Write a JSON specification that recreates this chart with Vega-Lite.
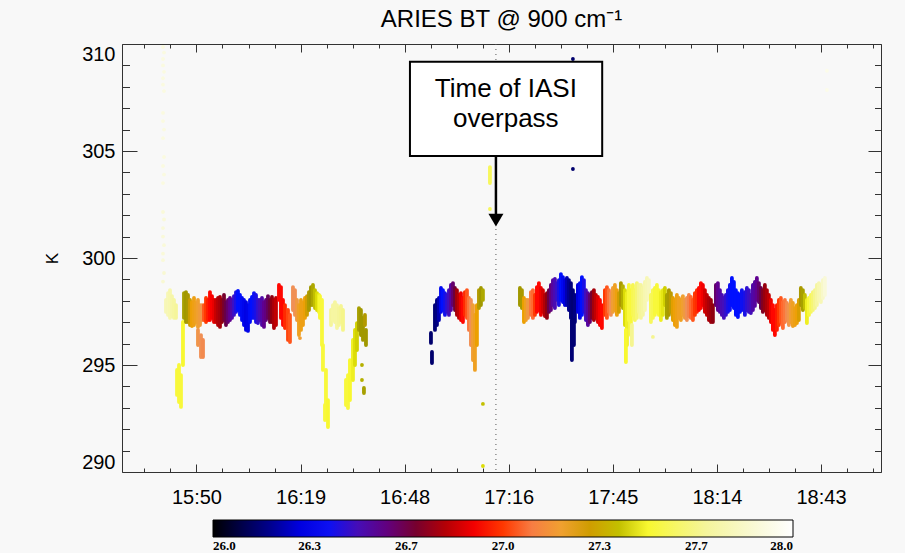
{
  "$schema": "https://vega.github.io/schema/vega-lite/v6.json",
  "width": 759,
  "height": 428,
  "autosize": "none",
  "padding": {"left": 122, "top": 44, "right": 24, "bottom": 81},
  "background": "#f8f8f8",
  "title": {"text": "ARIES BT @ 900 cm\u207b\u00b9", "font": "Liberation Sans", "fontSize": 24, "fontWeight": "normal", "color": "black", "anchor": "middle", "offset": 12},
  "config": {
    "view": {"stroke": null},
    "axis": {"domainColor": "#333", "tickColor": "#333", "labelColor": "black", "labelFont": "Liberation Sans", "labelFontSize": 20, "titleFont": "Liberation Sans", "titleFontWeight": "normal", "titleColor": "black", "titleFontSize": 17, "grid": false}
  },
  "datasets": {
    "bt": [
      {"t":40.74,"k":309.86,"k2":309.86,"z":27.9},
      {"t":41.02,"k":309.6,"k2":309.6,"z":27.9},
      {"t":40.74,"k":309.3,"k2":309.3,"z":27.9},
      {"t":40.74,"k":309.0,"k2":309.0,"z":27.9},
      {"t":41.02,"k":308.7,"k2":308.7,"z":27.9},
      {"t":40.74,"k":308.4,"k2":308.4,"z":27.9},
      {"t":40.74,"k":308.1,"k2":308.1,"z":27.9},
      {"t":41.02,"k":307.8,"k2":307.8,"z":27.9},
      {"t":40.74,"k":306.78,"k2":306.78,"z":27.9},
      {"t":40.74,"k":306.4,"k2":306.4,"z":27.9},
      {"t":41.02,"k":306.0,"k2":306.0,"z":27.9},
      {"t":40.74,"k":305.6,"k2":305.6,"z":27.9},
      {"t":41.02,"k":304.72,"k2":304.72,"z":27.9},
      {"t":40.74,"k":304.3,"k2":304.3,"z":27.9},
      {"t":41.02,"k":303.9,"k2":303.9,"z":27.9},
      {"t":40.74,"k":303.5,"k2":303.5,"z":27.9},
      {"t":40.74,"k":302.15,"k2":302.15,"z":27.88},
      {"t":41.02,"k":301.8,"k2":301.8,"z":27.88},
      {"t":40.74,"k":301.4,"k2":301.4,"z":27.88},
      {"t":40.74,"k":301.0,"k2":301.0,"z":27.88},
      {"t":41.02,"k":300.6,"k2":300.6,"z":27.88},
      {"t":40.74,"k":300.2,"k2":300.2,"z":27.88},
      {"t":40.74,"k":299.9,"k2":299.9,"z":27.88},
      {"t":41.02,"k":299.3,"k2":299.3,"z":27.86},
      {"t":40.74,"k":298.9,"k2":298.9,"z":27.86},
      {"t":41.57,"k":298.04,"k2":297.48,"z":27.78},
      {"t":42.13,"k":298.36,"k2":297.34,"z":27.78},
      {"t":42.68,"k":298.5,"k2":297.2,"z":27.76},
      {"t":43.23,"k":298.22,"k2":297.29,"z":27.74},
      {"t":43.78,"k":298.04,"k2":297.2,"z":27.72},
      {"t":44.34,"k":297.8,"k2":297.2,"z":27.7},
      {"t":44.62,"k":294.77,"k2":293.6,"z":27.52},
      {"t":45.17,"k":295.0,"k2":293.27,"z":27.52},
      {"t":45.72,"k":294.53,"k2":293.04,"z":27.52},
      {"t":46.27,"k":297.01,"k2":295.0,"z":27.5},
      {"t":46.55,"k":298.36,"k2":297.2,"z":27.36},
      {"t":47.1,"k":298.41,"k2":297.01,"z":27.35},
      {"t":47.66,"k":298.27,"k2":297.01,"z":27.34},
      {"t":48.21,"k":298.04,"k2":296.87,"z":27.3},
      {"t":48.76,"k":297.94,"k2":296.82,"z":27.26},
      {"t":49.32,"k":298.13,"k2":296.87,"z":27.24},
      {"t":49.87,"k":297.9,"k2":297.01,"z":27.22},
      {"t":50.42,"k":298.04,"k2":296.78,"z":27.2},
      {"t":50.98,"k":297.8,"k2":296.87,"z":27.18},
      {"t":51.53,"k":297.8,"k2":297.1,"z":27.15},
      {"t":50.42,"k":296.64,"k2":295.93,"z":27.15},
      {"t":51.25,"k":296.4,"k2":295.37,"z":27.13},
      {"t":51.81,"k":296.17,"k2":295.37,"z":27.12},
      {"t":52.08,"k":297.8,"k2":297.1,"z":27.04},
      {"t":52.64,"k":298.13,"k2":297.01,"z":27.0},
      {"t":53.19,"k":298.04,"k2":297.1,"z":26.96},
      {"t":53.74,"k":298.41,"k2":297.1,"z":26.93},
      {"t":54.3,"k":298.22,"k2":297.2,"z":26.91},
      {"t":54.85,"k":298.04,"k2":297.01,"z":26.88},
      {"t":55.4,"k":298.04,"k2":297.01,"z":26.83},
      {"t":55.96,"k":298.13,"k2":296.87,"z":26.8},
      {"t":56.51,"k":298.18,"k2":296.78,"z":26.78},
      {"t":57.06,"k":298.04,"k2":297.01,"z":26.75},
      {"t":57.62,"k":298.27,"k2":297.1,"z":26.7},
      {"t":58.17,"k":297.94,"k2":296.87,"z":26.66},
      {"t":58.72,"k":298.04,"k2":297.01,"z":26.62},
      {"t":59.28,"k":298.13,"k2":297.1,"z":26.58},
      {"t":59.83,"k":298.04,"k2":297.2,"z":26.53},
      {"t":60.38,"k":298.22,"k2":297.34,"z":26.47},
      {"t":60.94,"k":298.41,"k2":297.48,"z":26.42},
      {"t":61.49,"k":298.46,"k2":297.57,"z":26.38},
      {"t":62.04,"k":298.27,"k2":297.34,"z":26.38},
      {"t":62.6,"k":298.13,"k2":297.1,"z":26.35},
      {"t":63.15,"k":298.04,"k2":296.87,"z":26.33},
      {"t":63.7,"k":297.94,"k2":296.64,"z":26.31},
      {"t":64.26,"k":297.8,"k2":296.59,"z":26.32},
      {"t":64.81,"k":298.04,"k2":297.01,"z":26.36},
      {"t":65.36,"k":298.18,"k2":297.2,"z":26.38},
      {"t":65.92,"k":298.36,"k2":297.2,"z":26.4},
      {"t":66.47,"k":298.27,"k2":297.01,"z":26.42},
      {"t":67.02,"k":298.04,"k2":296.96,"z":26.46},
      {"t":67.57,"k":298.04,"k2":297.1,"z":26.49},
      {"t":68.13,"k":298.13,"k2":296.87,"z":26.53},
      {"t":68.68,"k":297.94,"k2":296.78,"z":26.58},
      {"t":69.23,"k":298.04,"k2":297.1,"z":26.6},
      {"t":69.79,"k":298.22,"k2":297.2,"z":26.64},
      {"t":70.34,"k":298.04,"k2":297.01,"z":26.68},
      {"t":70.89,"k":298.18,"k2":297.01,"z":26.75},
      {"t":71.45,"k":298.04,"k2":296.73,"z":26.79},
      {"t":72.0,"k":298.13,"k2":296.87,"z":26.82},
      {"t":72.83,"k":298.74,"k2":298.04,"z":26.93},
      {"t":73.38,"k":298.64,"k2":297.2,"z":26.93},
      {"t":73.94,"k":298.04,"k2":296.87,"z":26.93},
      {"t":74.49,"k":297.8,"k2":296.73,"z":26.98},
      {"t":75.32,"k":297.57,"k2":296.17,"z":27.02},
      {"t":75.87,"k":297.34,"k2":296.07,"z":27.04},
      {"t":76.7,"k":298.64,"k2":297.57,"z":27.13},
      {"t":77.26,"k":298.5,"k2":297.34,"z":27.13},
      {"t":77.81,"k":298.04,"k2":297.1,"z":27.17},
      {"t":78.64,"k":296.26,"k2":296.26,"z":27.19},
      {"t":78.36,"k":297.8,"k2":296.4,"z":27.22},
      {"t":78.92,"k":298.04,"k2":296.64,"z":27.24},
      {"t":79.47,"k":297.9,"k2":296.87,"z":27.24},
      {"t":80.02,"k":298.13,"k2":297.2,"z":27.26},
      {"t":80.58,"k":298.22,"k2":297.34,"z":27.3},
      {"t":81.13,"k":298.41,"k2":297.57,"z":27.34},
      {"t":81.68,"k":298.64,"k2":297.8,"z":27.35},
      {"t":82.24,"k":298.74,"k2":297.8,"z":27.37},
      {"t":82.79,"k":298.5,"k2":297.66,"z":27.4},
      {"t":83.34,"k":298.36,"k2":297.57,"z":27.44},
      {"t":83.9,"k":298.27,"k2":297.48,"z":27.48},
      {"t":84.17,"k":298.22,"k2":297.2,"z":27.5},
      {"t":84.73,"k":298.04,"k2":295.93,"z":27.52},
      {"t":85.0,"k":295.93,"k2":294.77,"z":27.52},
      {"t":85.83,"k":294.77,"k2":293.13,"z":27.52},
      {"t":85.56,"k":293.13,"k2":292.43,"z":27.52},
      {"t":86.39,"k":293.36,"k2":292.1,"z":27.5},
      {"t":87.22,"k":297.57,"k2":296.87,"z":27.7},
      {"t":87.77,"k":297.8,"k2":297.1,"z":27.72},
      {"t":88.32,"k":297.94,"k2":297.01,"z":27.72},
      {"t":88.88,"k":297.8,"k2":296.73,"z":27.72},
      {"t":89.43,"k":297.66,"k2":296.87,"z":27.7},
      {"t":89.98,"k":297.76,"k2":297.01,"z":27.68},
      {"t":90.54,"k":297.57,"k2":296.64,"z":27.66},
      {"t":91.37,"k":294.3,"k2":293.13,"z":27.52},
      {"t":91.92,"k":294.53,"k2":292.99,"z":27.52},
      {"t":92.47,"k":295.23,"k2":293.36,"z":27.5},
      {"t":93.3,"k":296.17,"k2":294.3,"z":27.48},
      {"t":93.86,"k":296.64,"k2":295.0,"z":27.44},
      {"t":94.41,"k":296.96,"k2":295.7,"z":27.42},
      {"t":94.96,"k":297.66,"k2":296.64,"z":27.36},
      {"t":95.51,"k":297.57,"k2":296.4,"z":27.35},
      {"t":96.07,"k":297.2,"k2":296.17,"z":27.35},
      {"t":96.62,"k":297.34,"k2":296.87,"z":27.33},
      {"t":96.9,"k":296.64,"k2":295.93,"z":27.35},
      {"t":95.79,"k":295.0,"k2":295.0,"z":27.38},
      {"t":95.79,"k":294.3,"k2":294.3,"z":27.38},
      {"t":96.34,"k":293.93,"k2":293.69,"z":27.36},
      {"t":114.88,"k":296.5,"k2":296.03,"z":26.15},
      {"t":115.16,"k":295.61,"k2":295.09,"z":26.15},
      {"t":115.99,"k":297.8,"k2":296.64,"z":26.16},
      {"t":116.54,"k":298.04,"k2":296.87,"z":26.18},
      {"t":117.09,"k":298.13,"k2":297.1,"z":26.24},
      {"t":117.65,"k":298.6,"k2":297.48,"z":26.34},
      {"t":118.2,"k":298.5,"k2":297.57,"z":26.38},
      {"t":118.75,"k":298.36,"k2":297.34,"z":26.41},
      {"t":119.31,"k":298.27,"k2":297.48,"z":26.45},
      {"t":119.86,"k":298.5,"k2":297.34,"z":26.49},
      {"t":120.41,"k":298.74,"k2":297.57,"z":26.55},
      {"t":120.97,"k":298.83,"k2":297.8,"z":26.62},
      {"t":121.52,"k":298.6,"k2":297.57,"z":26.68},
      {"t":122.07,"k":298.5,"k2":297.34,"z":26.78},
      {"t":122.63,"k":298.27,"k2":297.2,"z":26.82},
      {"t":123.18,"k":298.36,"k2":297.1,"z":26.89},
      {"t":123.73,"k":298.13,"k2":297.01,"z":26.93},
      {"t":124.28,"k":298.41,"k2":297.34,"z":26.98},
      {"t":124.84,"k":298.5,"k2":297.2,"z":27.04},
      {"t":125.39,"k":298.13,"k2":296.64,"z":27.09},
      {"t":125.94,"k":298.04,"k2":295.93,"z":27.13},
      {"t":126.5,"k":297.8,"k2":295.23,"z":27.19},
      {"t":127.05,"k":297.34,"k2":294.77,"z":27.22},
      {"t":127.6,"k":297.8,"k2":295.93,"z":27.27},
      {"t":128.16,"k":298.5,"k2":297.66,"z":27.33},
      {"t":128.71,"k":298.6,"k2":297.8,"z":27.35},
      {"t":129.26,"k":298.5,"k2":298.04,"z":27.37},
      {"t":129.26,"k":293.18,"k2":293.18,"z":27.4},
      {"t":129.26,"k":290.28,"k2":290.28,"z":27.44},
      {"t":131.2,"k":304.25,"k2":303.5,"z":27.58},
      {"t":131.2,"k":302.29,"k2":302.29,"z":27.58},
      {"t":154.16,"k":309.3,"k2":309.3,"z":26.15},
      {"t":154.16,"k":304.16,"k2":304.16,"z":26.15},
      {"t":139.5,"k":298.6,"k2":297.8,"z":27.35},
      {"t":140.05,"k":298.5,"k2":297.66,"z":27.34},
      {"t":140.61,"k":298.13,"k2":297.01,"z":27.27},
      {"t":141.16,"k":298.04,"k2":297.1,"z":27.22},
      {"t":141.71,"k":298.04,"k2":297.2,"z":27.17},
      {"t":142.54,"k":298.41,"k2":297.34,"z":27.09},
      {"t":143.09,"k":298.5,"k2":297.2,"z":27.07},
      {"t":143.65,"k":298.27,"k2":297.34,"z":27.0},
      {"t":144.2,"k":298.64,"k2":297.48,"z":26.93},
      {"t":144.75,"k":298.83,"k2":297.57,"z":26.93},
      {"t":145.31,"k":298.6,"k2":297.34,"z":26.89},
      {"t":145.86,"k":298.5,"k2":297.48,"z":26.85},
      {"t":146.41,"k":298.27,"k2":297.29,"z":26.8},
      {"t":146.97,"k":298.36,"k2":297.2,"z":26.75},
      {"t":147.52,"k":298.5,"k2":297.48,"z":26.66},
      {"t":148.07,"k":298.74,"k2":297.57,"z":26.6},
      {"t":148.63,"k":298.97,"k2":297.8,"z":26.55},
      {"t":149.18,"k":299.02,"k2":297.66,"z":26.51},
      {"t":149.73,"k":298.83,"k2":298.04,"z":26.47},
      {"t":150.29,"k":298.97,"k2":297.8,"z":26.42},
      {"t":150.84,"k":299.25,"k2":298.04,"z":26.38},
      {"t":151.39,"k":299.11,"k2":297.94,"z":26.34},
      {"t":151.95,"k":298.97,"k2":297.8,"z":26.3},
      {"t":152.5,"k":299.07,"k2":297.8,"z":26.24},
      {"t":153.05,"k":298.97,"k2":297.57,"z":26.2},
      {"t":153.61,"k":298.83,"k2":297.2,"z":26.17},
      {"t":154.16,"k":298.5,"k2":297.1,"z":26.16},
      {"t":154.71,"k":298.27,"k2":297.01,"z":26.18},
      {"t":153.88,"k":297.1,"k2":295.23,"z":26.16},
      {"t":154.44,"k":297.1,"k2":295.93,"z":26.16},
      {"t":155.54,"k":298.74,"k2":297.48,"z":26.3},
      {"t":156.1,"k":298.83,"k2":297.2,"z":26.34},
      {"t":156.65,"k":299.11,"k2":297.34,"z":26.38},
      {"t":157.2,"k":298.97,"k2":297.48,"z":26.42},
      {"t":157.76,"k":298.5,"k2":297.1,"z":26.49},
      {"t":158.31,"k":298.36,"k2":296.87,"z":26.55},
      {"t":158.86,"k":298.27,"k2":297.01,"z":26.62},
      {"t":159.42,"k":298.41,"k2":297.2,"z":26.7},
      {"t":159.97,"k":298.5,"k2":297.1,"z":26.78},
      {"t":160.52,"k":298.27,"k2":297.2,"z":26.82},
      {"t":161.08,"k":298.18,"k2":297.01,"z":26.87},
      {"t":161.63,"k":298.04,"k2":296.87,"z":26.91},
      {"t":162.18,"k":297.8,"k2":296.73,"z":26.93},
      {"t":163.01,"k":298.5,"k2":297.34,"z":27.0},
      {"t":163.57,"k":298.64,"k2":297.2,"z":27.04},
      {"t":164.12,"k":298.5,"k2":297.48,"z":27.09},
      {"t":164.67,"k":298.36,"k2":297.34,"z":27.13},
      {"t":165.23,"k":298.6,"k2":297.48,"z":27.19},
      {"t":165.78,"k":298.74,"k2":297.57,"z":27.22},
      {"t":166.33,"k":298.5,"k2":297.34,"z":27.25},
      {"t":166.89,"k":298.36,"k2":297.48,"z":27.3},
      {"t":167.44,"k":298.83,"k2":297.8,"z":27.34},
      {"t":167.99,"k":298.69,"k2":297.66,"z":27.38},
      {"t":168.55,"k":298.5,"k2":296.87,"z":27.44},
      {"t":169.1,"k":298.36,"k2":295.93,"z":27.48},
      {"t":169.65,"k":298.74,"k2":297.1,"z":27.52},
      {"t":170.21,"k":298.5,"k2":296.4,"z":27.52},
      {"t":170.76,"k":298.74,"k2":297.34,"z":27.56},
      {"t":171.31,"k":298.5,"k2":297.1,"z":27.58},
      {"t":171.86,"k":298.83,"k2":297.2,"z":27.62},
      {"t":172.42,"k":298.74,"k2":297.48,"z":27.67},
      {"t":168.82,"k":296.64,"k2":295.14,"z":27.5},
      {"t":170.48,"k":296.87,"k2":295.93,"z":27.67},
      {"t":172.97,"k":298.74,"k2":297.2,"z":27.7},
      {"t":173.52,"k":298.6,"k2":297.34,"z":27.72},
      {"t":174.08,"k":298.88,"k2":297.57,"z":27.76},
      {"t":174.63,"k":299.07,"k2":298.04,"z":27.78},
      {"t":175.18,"k":298.97,"k2":298.13,"z":27.8},
      {"t":175.74,"k":298.27,"k2":297.01,"z":27.58},
      {"t":176.29,"k":298.5,"k2":297.2,"z":27.56},
      {"t":176.29,"k":296.31,"k2":296.31,"z":27.67},
      {"t":176.84,"k":298.6,"k2":297.34,"z":27.52},
      {"t":177.4,"k":298.74,"k2":297.48,"z":27.52},
      {"t":177.95,"k":298.5,"k2":297.34,"z":27.51},
      {"t":178.5,"k":298.41,"k2":297.1,"z":27.48},
      {"t":179.06,"k":298.5,"k2":297.34,"z":27.46},
      {"t":179.61,"k":298.6,"k2":297.8,"z":27.42},
      {"t":180.16,"k":298.27,"k2":297.2,"z":27.36},
      {"t":180.72,"k":298.5,"k2":297.34,"z":27.34},
      {"t":181.27,"k":298.36,"k2":297.48,"z":27.32},
      {"t":181.82,"k":298.13,"k2":297.1,"z":27.28},
      {"t":182.38,"k":298.04,"k2":296.87,"z":27.26},
      {"t":182.93,"k":298.27,"k2":296.78,"z":27.24},
      {"t":183.48,"k":298.13,"k2":297.2,"z":27.22},
      {"t":184.04,"k":298.04,"k2":297.1,"z":27.22},
      {"t":184.59,"k":298.22,"k2":297.34,"z":27.2},
      {"t":185.14,"k":298.04,"k2":297.2,"z":27.17},
      {"t":185.7,"k":298.13,"k2":297.1,"z":27.13},
      {"t":186.25,"k":298.27,"k2":297.29,"z":27.11},
      {"t":186.8,"k":298.18,"k2":297.2,"z":27.07},
      {"t":187.36,"k":298.04,"k2":297.1,"z":27.04},
      {"t":187.91,"k":298.36,"k2":297.34,"z":27.0},
      {"t":188.46,"k":298.5,"k2":297.48,"z":26.98},
      {"t":189.02,"k":298.6,"k2":297.57,"z":26.93},
      {"t":189.57,"k":298.83,"k2":297.66,"z":26.93},
      {"t":190.12,"k":298.74,"k2":297.8,"z":26.9},
      {"t":190.68,"k":298.5,"k2":297.48,"z":26.85},
      {"t":191.23,"k":298.27,"k2":297.34,"z":26.82},
      {"t":191.78,"k":298.13,"k2":297.1,"z":26.79},
      {"t":192.34,"k":298.04,"k2":297.01,"z":26.77},
      {"t":192.89,"k":297.8,"k2":297.01,"z":26.75},
      {"t":193.72,"k":298.74,"k2":297.8,"z":26.62},
      {"t":194.27,"k":298.83,"k2":297.57,"z":26.58},
      {"t":194.83,"k":298.5,"k2":297.48,"z":26.55},
      {"t":195.38,"k":298.27,"k2":297.34,"z":26.51},
      {"t":195.93,"k":298.13,"k2":297.2,"z":26.49},
      {"t":196.49,"k":298.27,"k2":297.34,"z":26.46},
      {"t":197.04,"k":298.5,"k2":297.48,"z":26.42},
      {"t":197.59,"k":298.74,"k2":297.57,"z":26.4},
      {"t":198.15,"k":299.07,"k2":297.8,"z":26.38},
      {"t":198.7,"k":298.88,"k2":297.66,"z":26.38},
      {"t":199.25,"k":298.5,"k2":297.34,"z":26.38},
      {"t":199.81,"k":298.36,"k2":297.24,"z":26.38},
      {"t":200.36,"k":298.27,"k2":297.48,"z":26.38},
      {"t":200.91,"k":298.5,"k2":297.57,"z":26.4},
      {"t":201.74,"k":298.41,"k2":297.34,"z":26.42},
      {"t":202.29,"k":298.6,"k2":297.57,"z":26.45},
      {"t":202.85,"k":298.5,"k2":297.48,"z":26.47},
      {"t":203.4,"k":298.27,"k2":297.43,"z":26.49},
      {"t":203.96,"k":298.74,"k2":297.57,"z":26.53},
      {"t":204.51,"k":298.88,"k2":297.76,"z":26.55},
      {"t":205.06,"k":299.07,"k2":298.04,"z":26.58},
      {"t":205.62,"k":298.83,"k2":297.94,"z":26.62},
      {"t":206.17,"k":298.6,"k2":297.66,"z":26.66},
      {"t":206.72,"k":298.5,"k2":297.48,"z":26.72},
      {"t":207.27,"k":298.74,"k2":297.57,"z":26.76},
      {"t":207.83,"k":298.5,"k2":297.34,"z":26.79},
      {"t":208.38,"k":298.27,"k2":297.2,"z":26.82},
      {"t":208.94,"k":298.04,"k2":297.01,"z":26.89},
      {"t":209.49,"k":297.8,"k2":296.64,"z":26.93},
      {"t":210.04,"k":297.57,"k2":296.4,"z":26.93},
      {"t":210.6,"k":297.8,"k2":296.64,"z":26.96},
      {"t":211.15,"k":298.04,"k2":296.87,"z":27.0},
      {"t":211.7,"k":298.13,"k2":297.01,"z":27.04},
      {"t":212.26,"k":297.94,"k2":296.73,"z":27.07},
      {"t":212.81,"k":298.04,"k2":297.01,"z":27.09},
      {"t":213.36,"k":297.9,"k2":297.1,"z":27.12},
      {"t":213.92,"k":297.8,"k2":296.87,"z":27.15},
      {"t":214.47,"k":298.04,"k2":297.01,"z":27.19},
      {"t":215.02,"k":297.9,"k2":296.82,"z":27.22},
      {"t":215.58,"k":297.66,"k2":296.87,"z":27.24},
      {"t":216.13,"k":297.8,"k2":296.96,"z":27.26},
      {"t":216.68,"k":298.04,"k2":297.1,"z":27.29},
      {"t":217.23,"k":298.6,"k2":297.8,"z":27.34},
      {"t":217.79,"k":298.5,"k2":297.57,"z":27.36},
      {"t":218.34,"k":298.27,"k2":297.66,"z":27.4},
      {"t":218.9,"k":298.04,"k2":296.96,"z":27.48},
      {"t":219.45,"k":298.13,"k2":297.34,"z":27.52},
      {"t":220.0,"k":298.27,"k2":297.48,"z":27.58},
      {"t":220.56,"k":298.41,"k2":297.57,"z":27.62},
      {"t":221.11,"k":298.5,"k2":297.66,"z":27.67},
      {"t":221.66,"k":298.74,"k2":297.8,"z":27.72},
      {"t":222.22,"k":298.83,"k2":298.04,"z":27.76},
      {"t":222.77,"k":298.74,"k2":297.94,"z":27.78},
      {"t":223.32,"k":298.97,"k2":298.13,"z":27.83},
      {"t":223.87,"k":299.07,"k2":298.27,"z":27.88},
      {"t":224.43,"k":308.75,"k2":308.75,"z":27.93},
      {"t":224.43,"k":307.85,"k2":307.85,"z":27.93}
    ],
    "overpass": [{"t": 132.86, "k": 310, "k2": 290}],
    "box": [{"t": 109.07, "t2": 162.26, "k": 309.17, "k2": 304.77}],
    "stem": [{"t": 132.86, "k": 304.77, "k2": 302.0}],
    "head": [{"t": 132.86, "k": 301.77}],
    "note": [{"t": 135.6, "k": 307.54, "label": "Time of IASI\noverpass"}]
  },
  "resolve": {"axis": {"x": "independent", "y": "independent"}},
  "layer": [
    {
      "data": {"name": "overpass"},
      "mark": {"type": "rule", "color": "#555", "strokeWidth": 1, "strokeDash": [1, 4]},
      "encoding": {
        "x": {"field": "t", "type": "quantitative", "scale": {"domain": [29.4, 239.4], "nice": false, "zero": false},
              "axis": {"orient": "bottom", "values": [50, 78.8, 107.6, 136.4, 165.2, 194, 222.8], "labels": false, "domain": false, "ticks": true, "tickSize": -8, "title": null}},
        "y": {"field": "k", "type": "quantitative", "scale": {"domain": [290, 310], "nice": false, "zero": false},
              "axis": {"orient": "left", "values": [290, 295, 300, 305, 310], "labels": false, "domain": false, "ticks": true, "tickSize": -15, "title": null}},
        "y2": {"field": "k2"}
      }
    },
    {
      "data": {"name": "bt"},
      "mark": {"type": "rule", "strokeWidth": 3.8, "strokeCap": "round"},
      "encoding": {
        "x": {"field": "t", "type": "quantitative", "scale": {"domain": [29.4, 239.4], "nice": false, "zero": false},
              "axis": {"orient": "bottom", "values": [50, 78.8, 107.6, 136.4, 165.2, 194, 222.8], "ticks": false, "domain": true, "labelPadding": 15, "labelFlush": false, "title": null,
                       "labelExpr": "(15 + floor(round(datum.value) / 60)) + ':' + (round(datum.value) % 60 < 10 ? '0' : '') + (round(datum.value) % 60)"}},
        "y": {"field": "k", "type": "quantitative", "scale": {"domain": [290, 310], "nice": false, "zero": false},
              "axis": {"orient": "left", "values": [290, 295, 300, 305, 310], "format": "d", "ticks": false, "domain": true, "labelPadding": 7, "labelFlush": true, "title": "K", "titlePadding": 20}},
        "y2": {"field": "k2"},
        "color": {"field": "z", "type": "quantitative",
                  "scale": {"type": "linear", "interpolate": "rgb",
                            "domain": [26.0, 26.1, 26.2, 26.3, 26.38, 26.48, 26.58, 26.67, 26.75, 26.83, 26.92, 27.0, 27.07, 27.13, 27.2, 27.27, 27.35, 27.43, 27.5, 27.67, 27.85, 28.0],
                            "range": ["#000000", "#00004a", "#000090", "#0000e0", "#0010ff", "#4010c0", "#600090", "#680040", "#900010", "#c80000", "#ff0000", "#ff3800", "#ff6a30", "#f09055", "#f0a030", "#eca000", "#a09800", "#d8d800", "#f8f830", "#f5f590", "#f8f8d0", "#ffffff"]},
                  "legend": {"orient": "none", "legendX": 91, "legendY": 476, "direction": "horizontal", "title": null, "padding": 0,
                             "gradientLength": 580, "gradientThickness": 17, "gradientStrokeColor": "black", "gradientStrokeWidth": 1,
                             "values": [26, 26.3333, 26.6667, 27, 27.3333, 27.6667, 28], "format": ".1f",
                             "labelFont": "Liberation Serif", "labelFontSize": 13, "labelFontWeight": "bold", "labelColor": "black", "labelOffset": 3, "labelAlign": "center", "labelOverlap": false}}
      }
    },
    {
      "data": {"name": "box"},
      "mark": {"type": "rect", "fill": "white", "stroke": "black", "strokeWidth": 2},
      "encoding": {
        "x": {"field": "t", "type": "quantitative", "scale": {"domain": [29.4, 239.4], "nice": false, "zero": false},
              "axis": {"orient": "bottom", "values": [35.6, 42.8, 57.2, 64.4, 71.6, 86, 93.2, 100.4, 114.8, 122, 129.2, 143.6, 150.8, 158, 172.4, 179.6, 186.8, 201.2, 208.4, 215.6, 230, 237.2], "labels": false, "domain": false, "tickSize": -4, "title": null}},
        "x2": {"field": "t2"},
        "y": {"field": "k", "type": "quantitative", "scale": {"domain": [290, 310], "nice": false, "zero": false},
              "axis": {"orient": "left", "values": [291, 292, 293, 294, 296, 297, 298, 299, 301, 302, 303, 304, 306, 307, 308, 309], "labels": false, "domain": false, "tickSize": -7.5, "title": null}},
        "y2": {"field": "k2"}
      }
    },
    {
      "data": {"name": "stem"},
      "mark": {"type": "rule", "color": "black", "strokeWidth": 2.5},
      "encoding": {
        "x": {"field": "t", "type": "quantitative", "scale": {"domain": [29.4, 239.4], "nice": false, "zero": false},
              "axis": {"orient": "top", "values": [50, 78.8, 107.6, 136.4, 165.2, 194, 222.8], "labels": false, "domain": true, "tickSize": -8, "title": null}},
        "y": {"field": "k", "type": "quantitative", "scale": {"domain": [290, 310], "nice": false, "zero": false},
              "axis": {"orient": "right", "values": [290, 295, 300, 305, 310], "labels": false, "domain": true, "tickSize": -13, "title": null}},
        "y2": {"field": "k2"}
      }
    },
    {
      "data": {"name": "head"},
      "mark": {"type": "point", "shape": "triangle-down", "filled": true, "color": "black", "opacity": 1, "size": 225},
      "encoding": {
        "x": {"field": "t", "type": "quantitative", "scale": {"domain": [29.4, 239.4], "nice": false, "zero": false},
              "axis": {"orient": "top", "values": [35.6, 42.8, 57.2, 64.4, 71.6, 86, 93.2, 100.4, 114.8, 122, 129.2, 143.6, 150.8, 158, 172.4, 179.6, 186.8, 201.2, 208.4, 215.6, 230, 237.2], "labels": false, "domain": false, "tickSize": -4, "title": null}},
        "y": {"field": "k", "type": "quantitative", "scale": {"domain": [290, 310], "nice": false, "zero": false},
              "axis": {"orient": "right", "values": [291, 292, 293, 294, 296, 297, 298, 299, 301, 302, 303, 304, 306, 307, 308, 309], "labels": false, "domain": false, "tickSize": -6.5, "title": null}}
      }
    },
    {
      "data": {"name": "note"},
      "mark": {"type": "text", "font": "Liberation Sans", "fontSize": 26, "color": "black", "align": "center", "baseline": "alphabetic", "lineBreak": "\n", "lineHeight": 30.6},
      "encoding": {
        "x": {"field": "t", "type": "quantitative", "scale": {"domain": [29.4, 239.4], "nice": false, "zero": false}, "axis": null},
        "y": {"field": "k", "type": "quantitative", "scale": {"domain": [290, 310], "nice": false, "zero": false}, "axis": null},
        "text": {"field": "label"}
      }
    }
  ]
}
